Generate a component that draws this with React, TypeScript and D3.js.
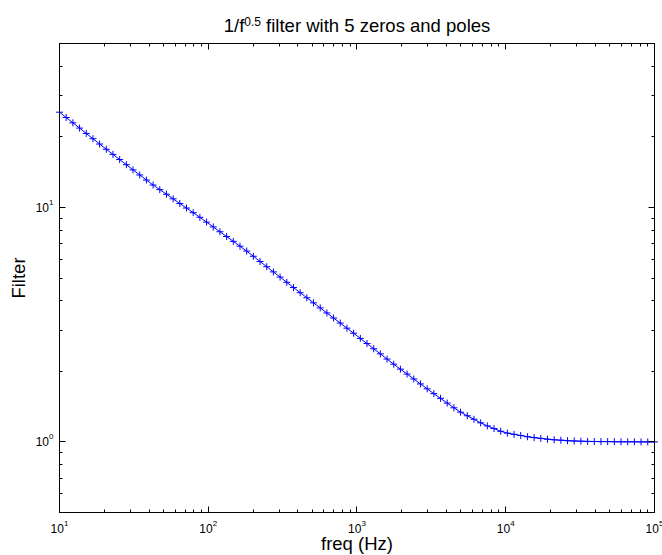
import React from "react";
import * as d3 from "d3";

// frequency points (Hz), log spaced 10 .. 1e5
const freq = [
  10, 11.09, 12.3, 13.64, 15.13, 16.78, 18.61, 20.63, 22.88, 25.38,
  28.15, 31.21, 34.62, 38.39, 42.58, 47.22, 52.36, 58.07, 64.4, 71.43,
  79.21, 87.85, 97.43, 108.05, 119.83, 132.89, 147.38, 163.45, 181.27, 201.03,
  222.94, 247.25, 274.2, 304.1, 337.25, 374.02, 414.79, 460.02, 510.17, 565.78,
  627.47, 695.87, 771.74, 855.87, 949.18, 1052.7, 1167.4, 1294.7, 1435.8, 1592.4,
  1766, 1958.5, 2172, 2408.8, 2671.4, 2962.7, 3285.7, 3643.9, 4041.1, 4481.7,
  4970.3, 5512.1, 6113, 6779.5, 7518.6, 8338.2, 9247.3, 10255, 11373, 12613,
  13988, 15513, 17205, 19080, 21160, 23467, 26026, 28863, 32010, 35499,
  39369, 43661, 48421, 53700, 59554, 66047, 73247, 81232, 90088, 100000,
];

// filter magnitude at each frequency
const filterGain = [
  25.47, 24.18, 22.95, 21.79, 20.68, 19.63, 18.63, 17.7, 16.83, 16.0,
  15.21, 14.46, 13.75, 13.08, 12.46, 11.91, 11.38, 10.88, 10.39, 9.936,
  9.495, 9.074, 8.658, 8.256, 7.876, 7.513, 7.165, 6.834, 6.513, 6.189,
  5.88, 5.587, 5.309, 5.044, 4.792, 4.553, 4.328, 4.118, 3.918, 3.728,
  3.547, 3.375, 3.212, 3.055, 2.907, 2.763, 2.627, 2.496, 2.374, 2.256,
  2.145, 2.043, 1.947, 1.855, 1.767, 1.684, 1.606, 1.534, 1.464, 1.398,
  1.339, 1.293, 1.249, 1.206, 1.17, 1.14, 1.11, 1.09, 1.077, 1.065,
  1.052, 1.043, 1.035, 1.027, 1.021, 1.017, 1.012, 1.009, 1.007, 1.005,
  1.004, 1.003, 1.003, 1.002, 1.001, 1.001, 1.001, 1.0, 1.0, 1.0,
];

const xDomain = [10, 1e5];
const yDomain = [0.5, 50];
const xTickExponents = [1, 2, 3, 4, 5];
const yTickExponents = [0, 1];

const width = 662;
const height = 555;
const left = 59.5;
const right = 654.5;
const top = 43.5;
const bottom = 512.5;

const font = "'Liberation Sans', Arial, Helvetica, sans-serif";

const isDecade = (v: number) => Math.abs(Math.log10(v) - Math.round(Math.log10(v))) < 1e-9;
const crisp = (v: number) => Math.round(v - 0.5) + 0.5;

export default function App() {
  const x = d3.scaleLog().domain(xDomain).range([left, right]);
  const y = d3.scaleLog().domain(yDomain).range([bottom, top]);

  const data = freq.map((f, i) => ({ f, h: filterGain[i] }));
  const line = d3
    .line<{ f: number; h: number }>()
    .x((d) => x(d.f))
    .y((d) => y(d.h));

  // ticks, drawn inward on all four sides
  const xt = x.ticks().filter((v) => v > xDomain[0] && v < xDomain[1]);
  const yt = y.ticks().filter((v) => v > yDomain[0] && v < yDomain[1]);

  let tickPath = "";
  xt.forEach((v) => {
    const len = isDecade(v) ? 6 : 3;
    const px = crisp(x(v));
    tickPath += `M${px},${bottom}v${-len}M${px},${top}v${len}`;
  });
  yt.forEach((v) => {
    const len = isDecade(v) ? 6 : 3;
    const py = crisp(y(v));
    tickPath += `M${left},${py}h${len}M${right},${py}h${-len}`;
  });

  let markers = "";
  data.forEach((d) => {
    const px = x(d.f);
    const py = y(d.h);
    markers += `M${px - 3.5},${py}h7M${px},${py - 3.5}v7`;
  });

  return (
    <svg
      width={width}
      height={height}
      style={{ position: "absolute", left: 0, top: 0, background: "#fff" }}
      fontFamily={font}
    >
      <rect x={0} y={0} width={width} height={height} fill="#fff" />

      <path d={line(data) || ""} fill="none" stroke="#0000ff" strokeWidth={1} />
      <path d={markers} fill="none" stroke="#0000ff" strokeWidth={1} />

      <rect
        x={left}
        y={top}
        width={right - left}
        height={bottom - top}
        fill="none"
        stroke="#000"
        strokeWidth={1}
      />
      <path d={tickPath} stroke="#000" strokeWidth={1} fill="none" />

      {xTickExponents.map((e) => (
        <text key={"x" + e} x={x(Math.pow(10, e))} y={533} textAnchor="middle" fontSize={12} fill="#000">
          10
          <tspan fontSize={8} dy={-7}>
            {e}
          </tspan>
        </text>
      ))}
      {yTickExponents.map((e) => (
        <text key={"y" + e} x={53.5} y={y(Math.pow(10, e)) + 4.5} textAnchor="end" fontSize={12} fill="#000">
          10
          <tspan fontSize={8} dy={-7}>
            {e}
          </tspan>
        </text>
      ))}

      <text x={(left + right) / 2} y={32} textAnchor="middle" fontSize={18.5} fill="#000">
        1/f
        <tspan fontSize={12} dy={-6}>
          0.5
        </tspan>
        <tspan dy={6}> filter with 5 zeros and poles</tspan>
      </text>

      <text x={(left + right) / 2} y={550} textAnchor="middle" fontSize={18.5} fill="#000">
        freq (Hz)
      </text>

      <text
        transform={`translate(25,${(top + bottom) / 2}) rotate(-90)`}
        textAnchor="middle"
        fontSize={18.5}
        fill="#000"
      >
        Filter
      </text>
    </svg>
  );
}
